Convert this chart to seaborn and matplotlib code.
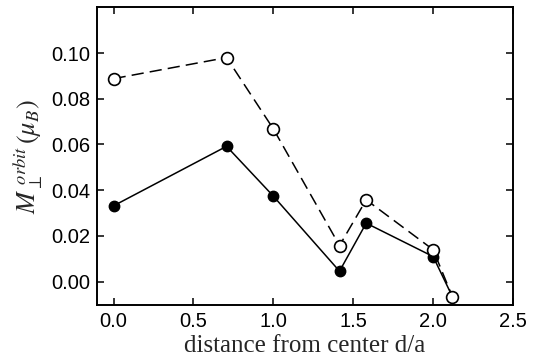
import matplotlib
matplotlib.use("Agg")
import matplotlib.pyplot as plt
import seaborn as sns
import numpy as np

distance = [0.0, 0.707, 1.0, 1.414, 1.581, 2.0, 2.121]
open_vals = [0.0888, 0.0980, 0.0668, 0.0158, 0.0358, 0.0140, -0.0066]
filled_vals = [0.0332, 0.0592, 0.0374, 0.0046, 0.0256, 0.0110, -0.0066]
xticks = [0.0, 0.5, 1.0, 1.5, 2.0, 2.5]
yticks = [0.00, 0.02, 0.04, 0.06, 0.08, 0.10]

sns.set_style("ticks")
plt.rcParams['font.family'] = ['Liberation Sans', 'DejaVu Sans']
plt.rcParams['mathtext.fontset'] = 'stix'

fig = plt.figure(figsize=(5.33, 3.64), dpi=100)
ax = fig.add_axes([0.182, 0.162, 0.7805, 0.818])

sns.lineplot(x=distance, y=filled_vals, ax=ax, sort=False, color='black', lw=1.1,
             marker='o', markersize=7.5, markerfacecolor='black', markeredgecolor='black',
             markeredgewidth=1.0, zorder=2)
sns.lineplot(x=distance, y=open_vals, ax=ax, sort=False, color='black', lw=1.1,
             linestyle=(0, (8, 4)), marker='o', markersize=8.5, markerfacecolor='white',
             markeredgecolor='black', markeredgewidth=1.2, zorder=3)

ax.set_xlim(-0.104, 2.5)
ax.set_ylim(-0.0102, 0.120)
ax.set_xticks(xticks)
ax.set_xticklabels([f"{t:.1f}" for t in xticks])
ax.set_yticks(yticks)
ax.set_yticklabels([f"{t:.2f}" for t in yticks])
ax.tick_params(direction='in', top=True, right=True, labelsize=14.5, length=5, width=1.1,
               colors='black', pad=5)
for s in ax.spines.values():
    s.set_linewidth(1.4)
    s.set_color('black')

ax.set_xlabel('distance from center d/a', family='Liberation Serif', fontsize=18, labelpad=3)
ax.set_ylabel(r'$M_{\perp}^{\ orbit}\,(\mu_B)$', fontsize=19, labelpad=4)

fig.savefig('out.png', dpi=100)
